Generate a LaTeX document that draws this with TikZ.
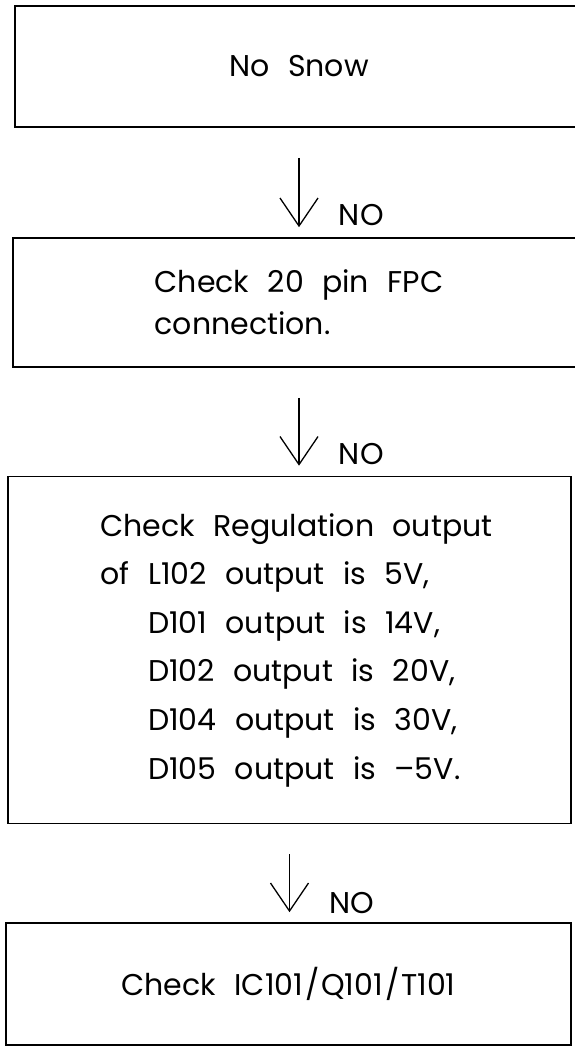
\documentclass[tikz,border=0pt]{standalone}
\usepackage{fontspec}
\setmainfont{Poppins}[WordSpace=2.3,Numbers=Monospaced]
\usetikzlibrary{arrows.meta}
\tikzset{
  box/.style={draw,line width=1.6pt,rectangle,inner sep=0pt,align=left,font=\fontsize{30}{48.6}\selectfont},
  flow/.style={-{Straight Barb[length=28pt,width=38pt]},line width=1.3pt,shorten <=30pt,shorten >=10pt},
  nolabel/.style={right=36pt,pos=0.8,font=\fontsize{30}{36}\selectfont}
}
\begin{document}
\begin{tikzpicture}[x=1pt,y=-1pt]
	\useasboundingbox (0,0) rectangle (574,1049);
	\node[box,minimum width=568pt,minimum height=121pt] (snow) at (299,66.5) {No Snow};
	\node[box,minimum width=572pt,minimum height=129pt,font=\fontsize{30}{42}\selectfont] (fpc) at (299,302.5) {Check 20 pin FPC\\connection.};
	\node[box,minimum width=563pt,minimum height=347pt] (reg) at (289.5,650) {\hspace*{14pt}Check Regulation output\\\hspace*{14pt}of L102 output is 5V,\\\hspace*{14pt}\phantom{of }D101 output is 14V,\\\hspace*{14pt}\phantom{of }D102 output is 20V,\\\hspace*{14pt}\phantom{of }D104 output is 30V,\\\hspace*{14pt}\phantom{of }D105 output is --5V.};
	\node[box,minimum width=565pt,minimum height=122pt] (chk) at (288.5,984) {Check IC101\kern2pt/\kern2pt Q101\kern2pt/\kern2pt T101};
	
	\draw[flow] (snow.south) -- (fpc.north) node[nolabel] {NO};
	\draw[flow] (fpc.south) -- (fpc.south |- reg.north) node[nolabel] {NO};
	\draw[flow] (reg.south) -- (reg.south |- chk.north) node[nolabel] {NO};
\end{tikzpicture}
\end{document}
